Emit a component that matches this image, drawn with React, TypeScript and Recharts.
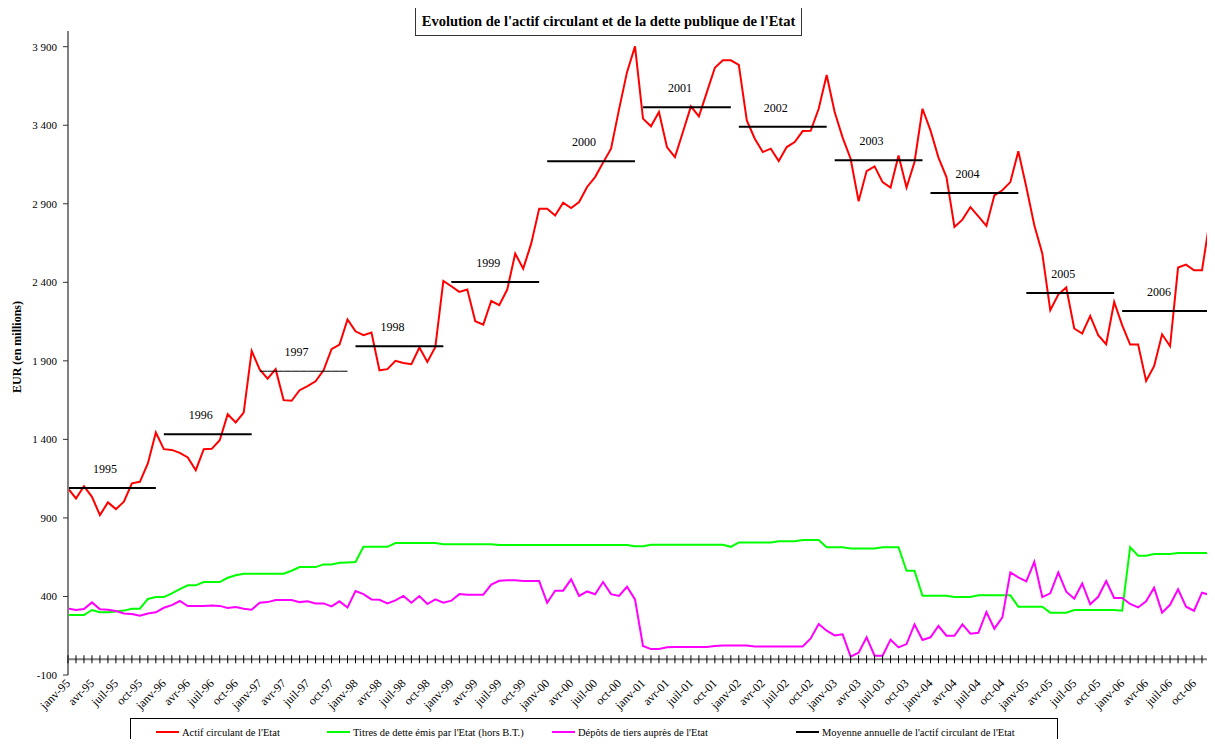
import React from "react";
import {
  LineChart,
  Line,
  XAxis,
  YAxis,
  ReferenceLine,
  ReferenceDot,
  Legend,
  LabelList,
} from "recharts";

const monthNames = ["janv", "févr", "mars", "avr", "mai", "juin", "juil", "août", "sept", "oct", "nov", "déc"];
const years = [1995, 1996, 1997, 1998, 1999, 2000, 2001, 2002, 2003, 2004, 2005, 2006];

// Actif circulant de l'Etat (EUR millions), janv-95 .. déc-06
const actif = [
  1088, 1024, 1102, 1034, 918, 999, 956, 1003, 1120, 1130, 1247, 1444,
  1338, 1333, 1314, 1285, 1204, 1338, 1340, 1395, 1560, 1508, 1571, 1963,
  1845, 1787, 1847, 1650, 1646, 1713, 1739, 1770, 1840, 1974, 2004, 2163,
  2088, 2063, 2080, 1840, 1847, 1900, 1887, 1879, 1985, 1893, 1989, 2409,
  2375, 2339, 2354, 2152, 2131, 2281, 2254, 2354, 2583, 2487, 2646, 2869,
  2869, 2825, 2907, 2873, 2911, 3007, 3070, 3162, 3251, 3501, 3738, 3902,
  3442, 3393, 3484, 3261, 3197, 3357, 3520, 3456, 3611, 3766, 3813, 3813,
  3785, 3431, 3314, 3229, 3251, 3172, 3261, 3293, 3363, 3365, 3505, 3720,
  3484, 3321, 3187, 2916, 3108, 3138, 3038, 3003, 3208, 3003, 3166, 3505,
  3367, 3194, 3070, 2752, 2799, 2879, 2820, 2759, 2954, 2986, 3038, 3234,
  3007, 2763, 2583, 2222, 2322, 2367, 2106, 2074, 2186, 2063, 2006, 2275,
  2127, 2004, 2004, 1772, 1866, 2069, 1993, 2494, 2513, 2477, 2477, 2805,
];

// Titres de dette émis par l'Etat (hors B.T.)
const titres = [
  282, 282, 282, 314, 299, 299, 305, 310, 322, 322, 384, 396,
  396, 420, 447, 471, 471, 492, 492, 492, 519, 535, 545, 545,
  545, 545, 545, 545, 564, 587, 587, 587, 604, 604, 615, 617,
  619, 716, 716, 716, 716, 740, 740, 740, 740, 740, 740, 733,
  733, 733, 733, 733, 733, 733, 728, 728, 728, 728, 728, 728,
  728, 728, 728, 728, 728, 728, 728, 728, 728, 728, 728, 720,
  720, 729, 729, 729, 729, 729, 729, 729, 729, 729, 729, 716,
  744, 744, 744, 744, 744, 752, 752, 752, 760, 760, 760, 713,
  713, 713, 705, 705, 705, 705, 713, 713, 713, 563, 563, 404,
  404, 404, 404, 397, 397, 397, 407, 407, 407, 407, 407, 335,
  335, 335, 335, 297, 297, 297, 314, 314, 314, 314, 314, 314,
  309, 713, 659, 659, 670, 670, 670, 677, 677, 677, 677, 677,
];

// Dépôts de tiers auprès de l'Etat
const depots = [
  324, 314, 320, 362, 318, 316, 307, 292, 288, 277, 292, 299,
  328, 345, 371, 339, 339, 339, 343, 340, 326, 333, 322, 316,
  360, 364, 377, 377, 377, 364, 369, 356, 356, 337, 369, 330,
  434, 415, 381, 379, 356, 375, 403, 360, 403, 352, 381, 360,
  373, 415, 411, 411, 411, 476, 500, 503, 503, 498, 498, 498,
  360, 437, 437, 509, 403, 432, 414, 492, 415, 403, 462, 381,
  85, 65, 65, 76, 78, 78, 78, 78, 78, 85, 88, 88,
  88, 88, 82, 82, 82, 82, 82, 82, 82, 133, 225, 182,
  152, 159, 17, 42, 140, 23, 23, 125, 76, 97, 222, 123,
  140, 212, 150, 150, 222, 163, 169, 301, 195, 267, 553, 521,
  496, 621, 396, 420, 553, 430, 386, 483, 350, 398, 498, 390,
  390, 352, 330, 369, 456, 297, 347, 445, 335, 309, 424, 409,
];

// Moyenne annuelle de l'actif circulant
const moyennes = [1090, 1433, 1834, 1993, 2402, 3170, 3514, 3391, 3177, 2968, 2332, 2218];

const yTicks = [-100, 400, 900, 1400, 1900, 2400, 2900, 3400, 3900];

const months = years.flatMap((y) => monthNames.map((m) => `${m}-${String(y).slice(2)}`));

const data = months.map((month, i) => {
  const row: Record<string, any> = {
    month,
    actif: actif[i],
    titres: titres[i],
    depots: depots[i],
  };
  years.forEach((y, k) => {
    row[`m${y}`] = Math.floor(i / 12) === k ? moyennes[k] : null;
  });
  return row;
});

const FONT = "'Liberation Serif', 'Times New Roman', serif";

const fmtY = (v: number) =>
  v >= 1000 ? `${Math.floor(v / 1000)} ${String(v % 1000).padStart(3, "0")}` : String(v);

const MonthTick = (props: any) => {
  const { x, y, payload } = props;
  return (
    <g transform={`translate(${x + 3},${y + 9}) rotate(-45)`}>
      <text x={0} y={0} textAnchor="end" fontSize={12} fontFamily={FONT} fill="#000">
        {payload.value}
      </text>
    </g>
  );
};

const TickMark = (props: any) => (
  <line x1={props.cx} x2={props.cx} y1={props.cy - 4} y2={props.cy + 4} stroke="#000" strokeWidth={1} />
);

const legendItems = [
  { label: "Actif circulant de l'Etat", color: "#ff0000", left: 25 },
  { label: "Titres de dette émis par l'Etat (hors B.T.)", color: "#00ff00", left: 196 },
  { label: "Dépôts de tiers auprès de l'Etat", color: "#ff00ff", left: 421 },
  { label: "Moyenne annuelle de l'actif circulant de l'Etat", color: "#000000", left: 665 },
];

const LegendBox = () => (
  <div
    style={{
      position: "relative",
      height: 28,
      boxSizing: "border-box",
      border: "1px solid #000",
      background: "#fff",
      fontFamily: FONT,
      fontSize: 10.5,
      color: "#000",
    }}
  >
    {legendItems.map((it) => (
      <div
        key={it.label}
        style={{ position: "absolute", left: it.left, top: 0, height: 26, display: "flex", alignItems: "center", whiteSpace: "nowrap" }}
      >
        <span style={{ display: "inline-block", width: 23, height: 2, background: it.color, marginRight: 3 }} />
        <span>{it.label}</span>
      </div>
    ))}
  </div>
);

const yearLabel = (year: number, k: number) => (props: any) => {
  const { x, y, index, value } = props;
  if (value == null || Math.floor(index / 12) !== k || index % 12 !== 4) return null;
  if (typeof x !== "number" || typeof y !== "number") return null;
  return (
    <text x={x + 5} y={y - 15} textAnchor="middle" fontSize={12} fontFamily={FONT} fill="#000" stroke="none">
      {year}
    </text>
  );
};

export default function App() {
  return (
    <div style={{ position: "relative", width: 1215, height: 747, margin: -8, background: "#fff" }}>
      <LineChart width={1215} height={747} data={data} margin={{ top: 31, right: 5, bottom: 1, left: 0 }}>
        <XAxis
          dataKey="month"
          interval={2}
          axisLine={false}
          tickLine={false}
          tickSize={0}
          tickMargin={0}
          height={43}
          tick={<MonthTick />}
        />
        <YAxis
          width={68}
          domain={[-100, 4000]}
          ticks={yTicks}
          allowDataOverflow
          tickFormatter={fmtY}
          axisLine={{ stroke: "#808080", strokeWidth: 2 }}
          tickLine={{ stroke: "#333" }}
          tickSize={5}
          tickMargin={6}
          tick={{ fontSize: 11, fontFamily: FONT, fill: "#000" }}
          label={{
            content: () => (
              <text
                x={17}
                y={347}
                transform="rotate(-90 17 347)"
                textAnchor="middle"
                dominantBaseline="central"
                fontSize={12}
                fontWeight="bold"
                fontFamily={FONT}
                fill="#000"
              >
                EUR (en millions)
              </text>
            ),
          }}
        />
        <ReferenceLine y={0} stroke="#808080" strokeWidth={2} />
        {months.map((m) => (
          <ReferenceDot key={m} x={m} y={0} r={0} shape={TickMark} />
        ))}
        <Legend verticalAlign="bottom" wrapperStyle={{ left: 130, width: 928 }} content={<LegendBox />} />
        <Line dataKey="actif" stroke="#ff0000" strokeWidth={2} dot={false} activeDot={false} isAnimationActive={false} />
        <Line dataKey="titres" stroke="#00ff00" strokeWidth={2} dot={false} activeDot={false} isAnimationActive={false} />
        <Line dataKey="depots" stroke="#ff00ff" strokeWidth={2} dot={false} activeDot={false} isAnimationActive={false} />
        {years.map((y, k) => (
          <Line
            key={y}
            dataKey={`m${y}`}
            stroke="#000"
            strokeWidth={y === 1997 ? 1 : 2}
            dot={false}
            activeDot={false}
            isAnimationActive={false}
          >
            <LabelList content={yearLabel(y, k)} />
          </Line>
        ))}
      </LineChart>
      <div
        style={{
          position: "absolute",
          left: 415,
          top: 7,
          width: 387,
          height: 29,
          boxSizing: "border-box",
          border: "1px solid #333",
          background: "#fff",
          display: "flex",
          alignItems: "center",
          justifyContent: "center",
          fontFamily: FONT,
          fontWeight: "bold",
          fontSize: 14.5,
          whiteSpace: "nowrap",
        }}
      >
        Evolution de l'actif circulant et de la dette publique de l'Etat
      </div>
    </div>
  );
}
